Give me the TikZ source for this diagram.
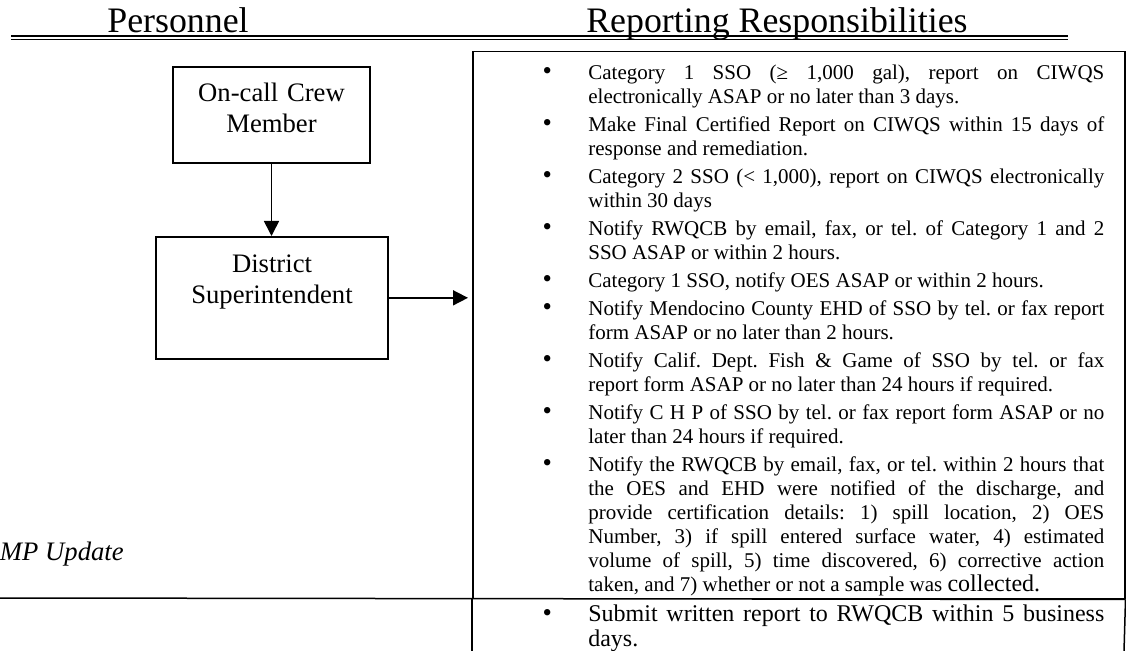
\documentclass[tikz,border=0pt]{standalone}
\usepackage{fontspec}
\setmainfont{Liberation Serif}
\usetikzlibrary{arrows.meta}

\newcommand{\respbullet}{{\fontsize{16pt}{16pt}\selectfont\textbullet}}
\newenvironment{resplist}{%
  \begin{list}{\respbullet}{%
    \setlength{\leftmargin}{40.8pt}\setlength{\labelsep}{21.8pt}%
    \setlength{\labelwidth}{19pt}\setlength{\itemindent}{0pt}%
    \setlength{\itemsep}{2.4pt}\setlength{\parsep}{0pt}%
    \setlength{\topsep}{0pt}\setlength{\partopsep}{0pt}}}%
  {\end{list}}

\begin{document}
\begin{tikzpicture}[x=0.6pt,y=-0.6pt,
  personbox/.style={draw, line width=1pt, inner sep=0pt, align=center,
    font=\fontsize{16pt}{18.6pt}\selectfont},
  heading/.style={anchor=base west, inner sep=0pt, font=\fontsize{21.5pt}{24pt}\selectfont},
  flow/.style={-{Triangle[length=9pt,width=9pt]}, line width=1pt},
  rule/.style={line width=0.9pt}]
  \useasboundingbox (0,0) rectangle (1126,651);
  \clip (0,0) rectangle (1126,651);

  % column headings
  \node[heading] (perstitle) at (107,33) {Personnel};
  \node[heading] (reptitle) at (586,33) {Reporting Responsibilities};
  \draw[line width=1pt] (11,36) -- (1068,36);
  \draw[line width=0.6pt] (11,39.5) -- (1068,39.5);

  % personnel
  \node[personbox, text width=118.2pt, text height=21pt, text depth=36.6pt, anchor=north] (oncall) at (271.5,66) {On-call Crew\\Member};
  \node[personbox, text width=139.2pt, text height=21.6pt, text depth=51.6pt, anchor=north] (dist) at (272,236) {District\\Superintendent};

  % responsibilities
  \node[draw, rule, inner sep=0pt, anchor=north west, minimum width=391.2pt, minimum height=328.2pt] (resp) at (472,51) {};
  \node[anchor=base west, inner sep=0pt, text width=350.4pt, align=justify,
    font=\fontsize{12.6pt}{14.4pt}\selectfont\frenchspacing] (resptext) at (520,56) {%
    \begin{resplist}
      \item Category 1 SSO (≥ 1,000 gal), report on CIWQS \linebreak electronically ASAP or no later than 3 days.
      \item Make Final Certified Report on CIWQS within 15 days of \linebreak response and remediation.
      \item Category 2 SSO (< 1,000), report on CIWQS electronically \linebreak within 30 days
      \item Notify RWQCB by email, fax, or tel. of Category 1 and 2 \linebreak SSO ASAP or within 2 hours.
      \item Category 1 SSO, notify OES ASAP or within 2 hours.
      \item Notify Mendocino County EHD of SSO by tel. or fax report \linebreak form ASAP or no later than 2 hours.
      \item Notify Calif. Dept. Fish \& Game of SSO by tel. or fax \linebreak report form ASAP or no later than 24 hours if required.
      \item Notify C H P of SSO by tel. or fax report form ASAP or no \linebreak later than 24 hours if required.
      \item Notify the RWQCB by email, fax, or tel. within 2 hours that \linebreak the OES and EHD were notified of the discharge, and \linebreak provide certification details: 1) spill location, 2) OES \linebreak Number, 3) if spill entered surface water, 4) estimated \linebreak volume of spill, 5) time discovered, 6) corrective action \linebreak taken, and 7) whether or not a sample was {\fontsize{14.4pt}{16.8pt}\selectfont collected.}
    \end{resplist}};

  % second row
  \draw[rule] (0,598) -- (resp.south east);
  \draw[rule] (resp.south west) -- (472,651);
  \draw[rule] (resp.south east) -- (1124,651);
  \node[anchor=base east, inner sep=0pt, font=\fontsize{16pt}{18pt}\selectfont\itshape] (update) at (124,560) {SSMP Update};
  \node[anchor=base west, inner sep=0pt, text width=350.4pt, align=justify,
    font=\fontsize{14.4pt}{15.6pt}\selectfont] (reporttext) at (520,595) {%
    \begin{resplist}
      \item Submit written report to RWQCB within 5 business \linebreak days.
    \end{resplist}};

  % arrows
  \draw[flow] (oncall.south) -- (oncall.south |- dist.north);
  \draw[flow, shorten >=2.4pt] (dist.east) -- (dist.east -| resp.west);
\end{tikzpicture}
\end{document}
